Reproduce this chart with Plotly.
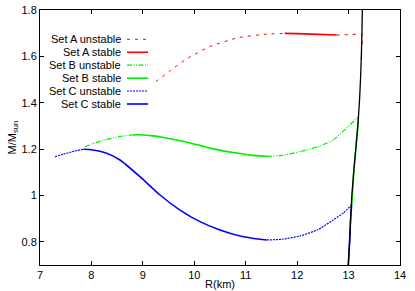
import plotly.graph_objects as go

# ---------------- data ----------------
# Set A
A_unst1_R = [9.255, 9.53, 9.85, 10.30, 10.86, 11.41, 11.76]
A_unst1_M = [1.491, 1.538, 1.589, 1.642, 1.681, 1.696, 1.699]
A_stab_R = [11.76, 12.0, 12.3, 12.77]
A_stab_M = [1.699, 1.698, 1.696, 1.692]
A_unst2_R = [12.77, 13.0, 13.19, 13.26, 13.252, 13.245]
A_unst2_M = [1.692, 1.694, 1.695, 1.695, 1.62, 1.57]

# Set B
B_unst1_R = [7.875, 8.0, 8.3, 8.6, 8.8]
B_unst1_M = [1.210, 1.222, 1.242, 1.256, 1.261]
B_stab_R = [8.8, 8.88, 9.2, 9.46, 9.8, 10.11, 10.37, 10.76, 11.1, 11.41]
B_stab_M = [1.261, 1.262, 1.257, 1.248, 1.233, 1.216, 1.201, 1.185, 1.174, 1.169]
B_unst2_R = [11.41, 11.7, 12.055, 12.4, 12.70, 12.95, 13.19]
B_unst2_M = [1.169, 1.173, 1.189, 1.210, 1.239, 1.288, 1.340]
B_stab2_R = [13.19, 13.18, 13.14, 13.10, 13.063]
B_stab2_M = [1.340, 1.30, 1.20, 1.10, 0.96]

# Set C
C_unst1_R = [7.292, 7.45, 7.583, 7.72, 7.842]
C_unst1_M = [1.167, 1.178, 1.186, 1.194, 1.199]
C_stab_R = [7.842, 8.0, 8.297, 8.556, 8.944, 9.333, 9.722, 10.111, 10.5, 10.889, 11.278, 11.41]
C_stab_M = [1.199, 1.197, 1.182, 1.153, 1.081, 1.002, 0.937, 0.887, 0.851, 0.825, 0.811, 0.808]
C_unst2_R = [11.41, 11.7, 12.055, 12.4, 12.70, 12.9, 13.06]
C_unst2_M = [0.808, 0.811, 0.825, 0.852, 0.894, 0.925, 0.959]
C_stab2_R = [13.06, 13.04, 13.02, 12.995]
C_stab2_M = [0.96, 0.90, 0.80, 0.70]

# common (black) branch
K_R = [12.995, 13.02, 13.04, 13.063, 13.10, 13.14, 13.18, 13.21, 13.232, 13.248, 13.26, 13.268, 13.272]
K_M = [0.70, 0.80, 0.90, 1.00, 1.10, 1.20, 1.30, 1.40, 1.50, 1.60, 1.70, 1.80, 1.85]

legend_labels = ["Set A unstable", "Set A stable", "Set B unstable",
                 "Set B stable", "Set C unstable", "Set C stable"]

x_ticks = [7, 8, 9, 10, 11, 12, 13, 14]
y_ticks = [0.8, 1.0, 1.2, 1.4, 1.6, 1.8]
y_tick_text = ["0.8", "1", "1.2", "1.4", "1.6", "1.8"]

# ---------------- styles ----------------
RED, GREEN, BLUE = "#ff0000", "#00ee00", "#0000ff"
DASH_A = "3px,5px"
DASH_B = "5px,1.5px,1px,1.5px,1px,1.5px"
DASH_C = "2px,1px"

styles = [
    (RED, DASH_A, 1.0),
    (RED, "solid", 1.6),
    (GREEN, DASH_B, 1.2),
    (GREEN, "solid", 1.6),
    (BLUE, DASH_C, 1.2),
    (BLUE, "solid", 1.6),
]

fig = go.Figure()


def add(R, M, style):
    color, dash, w = style
    fig.add_trace(go.Scatter(x=R, y=M, mode="lines", showlegend=False,
                             line=dict(color=color, dash=dash, width=w,
                                       shape="spline", smoothing=0.5),
                             hoverinfo="skip"))


add(A_unst1_R, A_unst1_M, styles[0])
add(A_stab_R, A_stab_M, styles[1])
add(A_unst2_R, A_unst2_M, styles[0])
add(B_unst1_R, B_unst1_M, styles[2])
add(B_stab_R, B_stab_M, styles[3])
add(B_unst2_R, B_unst2_M, styles[2])
add(B_stab2_R, B_stab2_M, styles[3])
add(C_unst1_R, C_unst1_M, styles[4])
add(C_stab_R, C_stab_M, styles[5])
add(C_unst2_R, C_unst2_M, styles[4])
add(C_stab2_R, C_stab2_M, styles[5])

fig.add_trace(go.Scatter(x=K_R, y=K_M, mode="lines", showlegend=False,
                         line=dict(color="black", width=1.3, shape="spline", smoothing=0.5),
                         hoverinfo="skip"))

# ---------------- manual legend (text right-aligned, sample on the right) ----------------
L, T, W, H = 40, 10, 360, 255
FONT = "Liberation Sans, Arial, sans-serif"
leg_y_px = [39.3, 52.3, 65.2, 78.2, 91.0, 104.0]
for lab, ypx, st in zip(legend_labels, leg_y_px, styles):
    yp = (T + H - ypx) / H
    fig.add_annotation(xref="paper", yref="paper", x=(123 - L) / W, y=yp,
                       text=lab, showarrow=False, xanchor="right", yanchor="middle",
                       font=dict(family=FONT, size=11, color="black"))
    fig.add_shape(type="line", xref="paper", yref="paper",
                  x0=(127 - L) / W, x1=(148 - L) / W, y0=yp, y1=yp,
                  line=dict(color=st[0], dash=st[1], width=st[2]))

axis_common = dict(showgrid=False, zeroline=False, showline=True, linecolor="black",
                   linewidth=1, mirror="ticks", ticks="inside", ticklen=4,
                   tickcolor="black", tickwidth=1, automargin=False,
                   tickfont=dict(family=FONT, size=11, color="black"))

fig.update_xaxes(range=[7, 14], tickvals=x_ticks, ticktext=[str(v) for v in x_ticks],
                 title=dict(text="R(km)", font=dict(family=FONT, size=11, color="black"),
                            standoff=0),
                 **axis_common)
fig.update_yaxes(range=[0.7, 1.8], tickvals=y_ticks, ticktext=y_tick_text,
                 title=dict(text="M/M<sub>sun</sub>", font=dict(family=FONT, size=11, color="black"),
                            standoff=2),
                 **axis_common)

fig.update_layout(width=415, height=291, margin=dict(l=L, r=415 - L - W, t=T, b=291 - T - H),
                  plot_bgcolor="white", paper_bgcolor="white",
                  font=dict(family=FONT, size=11, color="black"))

fig.write_html("out.html", config={"displayModeBar": False},
               post_script="document.body.style.margin='0';")
